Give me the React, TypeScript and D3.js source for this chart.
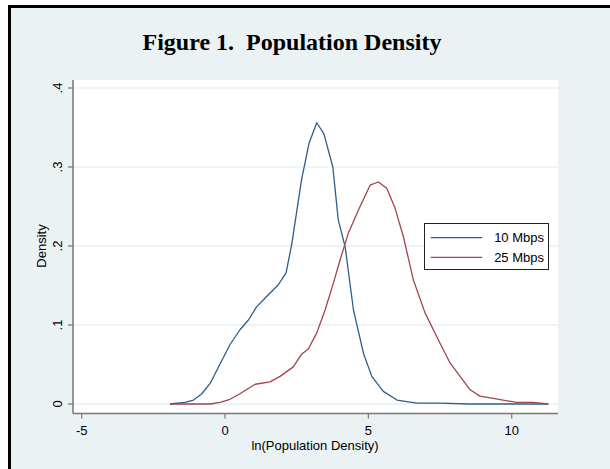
import React, { useEffect, useRef } from "react";
import * as d3 from "d3";

// ln(population density) grid and kernel density estimates
const x10 = [-1.92, -1.4, -1.1, -0.81, -0.52, -0.17, 0.17, 0.52, 0.81, 1.1, 1.45, 1.86, 2.13, 2.33, 2.67, 2.93, 3.2, 3.45, 3.76, 3.95, 4.19, 4.48, 4.83, 5.12, 5.52, 6.0, 6.69, 7.5, 8.5, 9.5, 10.5, 11.27];
const d10 = [0.0, 0.002, 0.005, 0.013, 0.026, 0.051, 0.075, 0.094, 0.106, 0.123, 0.136, 0.151, 0.166, 0.203, 0.284, 0.33, 0.356, 0.342, 0.3, 0.233, 0.199, 0.119, 0.064, 0.035, 0.016, 0.005, 0.001, 0.001, 0.0, 0.0, 0.0, 0.0];

const x25 = [-1.92, -0.52, -0.17, 0.17, 0.52, 1.05, 1.57, 1.92, 2.38, 2.67, 2.91, 3.2, 3.49, 3.78, 4.01, 4.3, 4.71, 5.06, 5.35, 5.64, 5.93, 6.22, 6.57, 6.98, 7.5, 7.85, 8.2, 8.55, 8.89, 9.36, 10.17, 10.75, 11.28];
const d25 = [0.0, 0.0, 0.002, 0.006, 0.013, 0.025, 0.028, 0.035, 0.047, 0.063, 0.07, 0.09, 0.119, 0.153, 0.182, 0.216, 0.25, 0.277, 0.281, 0.273, 0.248, 0.212, 0.157, 0.115, 0.077, 0.052, 0.035, 0.018, 0.01, 0.007, 0.002, 0.002, 0.0];

const xTicks = [-5, 0, 5, 10];
const yTicks = [0, 0.1, 0.2, 0.3, 0.4];
const yTickLabels = ["0", ".1", ".2", ".3", ".4"];
const seriesNames = ["10 Mbps", "25 Mbps"];
const seriesColors = ["#2f5d8a", "#a3434a"];

const App = () => {
  const svgRef = useRef(null);

  useEffect(() => {
    const width = 610, height = 469;
    const svg = d3.select(svgRef.current);
    svg.selectAll("*").remove();

    const x = d3.scaleLinear().domain([-5, 10]).range([81.7, 511.7]);
    const y = d3.scaleLinear().domain([0, 0.4]).range([404, 88]);
    const plotL = 73, plotR = 558, plotT = 80, axisY = 413.5;

    svg.append("rect").attr("width", width).attr("height", height).attr("fill", "#fff");
    svg.append("rect")
      .attr("x", 9.5).attr("y", 6.5)
      .attr("width", width + 10).attr("height", height + 10)
      .attr("fill", "#eaf2f3")
      .attr("stroke", "#000")
      .attr("stroke-width", 3);

    svg.append("text")
      .attr("x", 292)
      .attr("y", 50)
      .attr("text-anchor", "middle")
      .attr("font-family", "'Liberation Serif', serif")
      .attr("font-weight", "bold")
      .attr("font-size", "24px")
      .style("white-space", "pre")
      .text("Figure 1.  Population Density");

    // plot region
    svg.append("rect")
      .attr("x", plotL).attr("y", plotT)
      .attr("width", plotR - plotL).attr("height", axisY - plotT)
      .attr("fill", "#fff");

    svg.append("g")
      .selectAll("line")
      .data(yTicks)
      .enter().append("line")
      .attr("x1", plotL).attr("x2", plotR)
      .attr("y1", d => y(d)).attr("y2", d => y(d))
      .attr("stroke", "#eaf2f3")
      .attr("stroke-width", 1.5);

    const line = d3.line().x(d => x(d[0])).y(d => y(d[1]));
    const series = [d3.zip(x10, d10), d3.zip(x25, d25)];
    series.forEach((s, i) => {
      svg.append("path")
        .datum(s)
        .attr("fill", "none")
        .attr("stroke", seriesColors[i])
        .attr("stroke-width", 1.3)
        .attr("stroke-linejoin", "round")
        .attr("d", line);
    });

    const font = "'Liberation Sans', Arial, sans-serif";

    // y axis
    svg.append("line")
      .attr("x1", plotL).attr("x2", plotL)
      .attr("y1", plotT).attr("y2", axisY)
      .attr("stroke", "#777").attr("stroke-width", 1.5);
    yTicks.forEach((t, i) => {
      svg.append("line")
        .attr("x1", plotL - 5).attr("x2", plotL)
        .attr("y1", y(t)).attr("y2", y(t))
        .attr("stroke", "#777").attr("stroke-width", 1.2);
      svg.append("text")
        .attr("transform", `translate(62, ${y(t)}) rotate(-90)`)
        .attr("text-anchor", "middle")
        .attr("font-family", font)
        .attr("font-size", "13px")
        .text(yTickLabels[i]);
    });
    svg.append("text")
      .attr("transform", `translate(46, 246) rotate(-90)`)
      .attr("text-anchor", "middle")
      .attr("font-family", font)
      .attr("font-size", "13px")
      .text("Density");

    // x axis
    svg.append("line")
      .attr("x1", plotL).attr("x2", plotR)
      .attr("y1", axisY).attr("y2", axisY)
      .attr("stroke", "#777").attr("stroke-width", 1.5);
    xTicks.forEach(t => {
      svg.append("line")
        .attr("x1", x(t)).attr("x2", x(t))
        .attr("y1", axisY).attr("y2", axisY + 5)
        .attr("stroke", "#777").attr("stroke-width", 1.2);
      svg.append("text")
        .attr("x", x(t))
        .attr("y", 435)
        .attr("text-anchor", "middle")
        .attr("font-family", font)
        .attr("font-size", "13px")
        .text(t);
    });
    svg.append("text")
      .attr("x", 315)
      .attr("y", 450)
      .attr("text-anchor", "middle")
      .attr("font-family", font)
      .attr("font-size", "13px")
      .text("ln(Population Density)");

    // legend
    svg.append("rect")
      .attr("x", 424.5).attr("y", 223.5)
      .attr("width", 124).attr("height", 46)
      .attr("fill", "#fff")
      .attr("stroke", "#222").attr("stroke-width", 1);
    seriesNames.forEach((name, i) => {
      const ly = 237.7 + i * 19.6;
      svg.append("line")
        .attr("x1", 430.7).attr("x2", 482.3)
        .attr("y1", ly).attr("y2", ly)
        .attr("stroke", seriesColors[i]).attr("stroke-width", 1.3);
      svg.append("text")
        .attr("x", 544)
        .attr("y", ly + 4.5)
        .attr("text-anchor", "end")
        .attr("font-family", font)
        .attr("font-size", "13px")
        .text(name);
    });
  }, []);

  return (
    <svg
      ref={svgRef}
      width={610}
      height={469}
      style={{ position: "absolute", left: 0, top: 0 }}
    ></svg>
  );
};

export default App;
